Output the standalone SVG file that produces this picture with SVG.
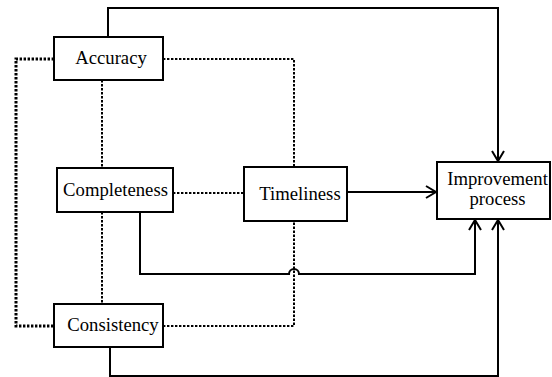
<svg xmlns="http://www.w3.org/2000/svg" width="552" height="377" viewBox="0 0 552 377">
<defs>
<marker id="arr" viewBox="0 0 14 14" refX="12" refY="7" markerWidth="14" markerHeight="14" markerUnits="userSpaceOnUse" orient="auto">
<path d="M2,1 L12,7 L2,13" fill="none" stroke="#000" stroke-width="2"/>
</marker>
</defs>
<style>
.box{fill:#fff;stroke:#000;stroke-width:2}
.t{font-family:"Liberation Serif","Times New Roman",serif;font-size:18.7px;fill:#000;text-anchor:middle}
.solid{fill:none;stroke:#000;stroke-width:2}
.dot{fill:none;stroke:#000;stroke-width:2;stroke-dasharray:2.4 1.6}
.dotw{fill:none;stroke:#000;stroke-width:3;stroke-dasharray:2.4 1.6}
</style>
<rect width="552" height="377" fill="#fff"/>
<g id="connectors">
<path class="dotw" d="M54,59 H16 V326 H54"/>
<path class="dot" d="M163,59 H294 V167"/>
<path class="dot" d="M102,80 V168"/>
<path class="dot" d="M173,193 H244"/>
<path class="dot" d="M102,212 V304"/>
<path class="dot" d="M163,326 H294 V221"/>
<path class="solid" d="M108,37 V8 H498 V161" marker-end="url(#arr)"/>
<path class="solid" d="M347,192 H436" marker-end="url(#arr)"/>
<path class="solid" d="M140,212 V274 H289 A5,5 0 0 1 299,274 H475 V220" marker-end="url(#arr)"/>
<path class="solid" d="M110,347 V376 H498 V220" marker-end="url(#arr)"/>
</g>
<g id="accuracy"><rect class="box" x="54" y="37" width="109" height="43"/><text class="t" x="111" y="64">Accuracy</text></g>
<g id="completeness"><rect class="box" x="57" y="168" width="116" height="44"/><text class="t" x="115.5" y="196">Completeness</text></g>
<g id="timeliness"><rect class="box" x="244" y="167" width="103" height="54"/><text class="t" x="300" y="200">Timeliness</text></g>
<g id="consistency"><rect class="box" x="54" y="304" width="109" height="43"/><text class="t" x="113" y="331">Consistency</text></g>
<g id="improvement"><rect class="box" x="437" y="162" width="113" height="57"/><text class="t" x="497.5" y="185">Improvement</text><text class="t" x="497.5" y="205">process</text></g>
</svg>
